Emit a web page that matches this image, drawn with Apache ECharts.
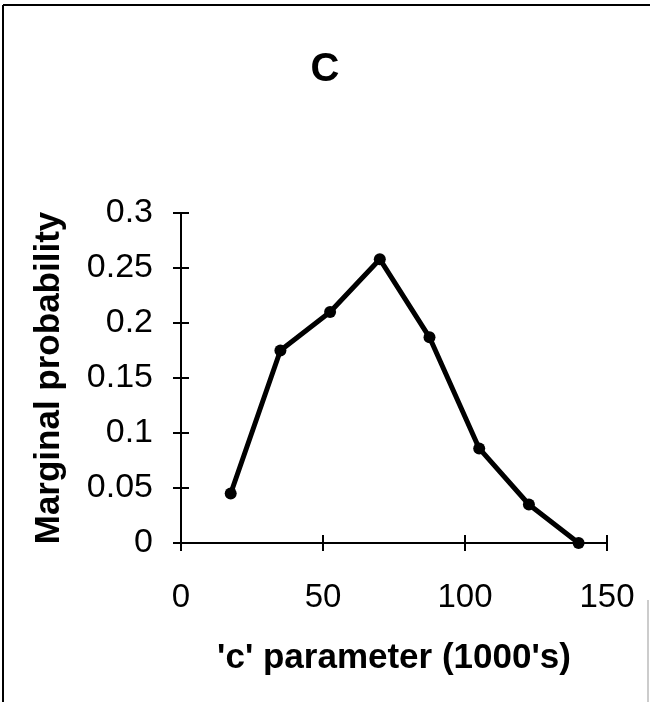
<!DOCTYPE html>
<html><head><meta charset="utf-8">
<script src="https://cdn.jsdelivr.net/npm/echarts@6/dist/echarts.min.js"></script>
<style>html,body{margin:0;padding:0;background:#fff}#c{width:650px;height:702px}</style>
</head><body><div id="c"></div>
<script>
const xValues = [17.5, 35, 52.5, 70, 87.5, 105, 122.5, 140];
const yValues = [0.045, 0.175, 0.21, 0.258, 0.187, 0.086, 0.035, 0.0];
const titleText = 'C';
const xName = "'c' parameter (1000's)";
const yName = 'Marginal probability';

const chart = echarts.init(document.getElementById('c'));
const ff = 'Liberation Sans, Arial, sans-serif';
const grid = {left: 181, right: 43, top: 213, bottom: 159};
chart.setOption({
  backgroundColor: '#fff',
  animation: false,
  title: {text: titleText, left: 'center', top: 50, textStyle: {fontFamily: ff, fontSize: 40, fontWeight: 'bold', color: '#000'}, padding: 0},
  grid: [grid, grid],
  xAxis: [
    {type: 'value', min: 0, max: 150, interval: 50, gridIndex: 0,
     axisLine: {show: true, lineStyle: {color: '#000', width: 2}},
     axisTick: {show: true, length: 8, lineStyle: {color: '#000', width: 2}},
     axisLabel: {fontFamily: ff, fontSize: 33, color: '#000', margin: 38},
     splitLine: {show: false},
     name: xName, nameLocation: 'middle', nameGap: 98,
     nameTextStyle: {fontFamily: ff, fontSize: 35, fontWeight: 'bold', color: '#000'}},
    {type: 'value', min: 0, max: 150, interval: 50, gridIndex: 1, position: 'bottom',
     axisLine: {show: false}, axisTick: {show: true, inside: true, length: 8, lineStyle: {color: '#000', width: 2}},
     axisLabel: {show: false}, splitLine: {show: false}}
  ],
  yAxis: [
    {type: 'value', min: 0, max: 0.3, interval: 0.05, gridIndex: 0,
     axisLine: {show: true, lineStyle: {color: '#000', width: 2}},
     axisTick: {show: true, length: 8, lineStyle: {color: '#000', width: 2}},
     axisLabel: {fontFamily: ff, fontSize: 34, color: '#000', margin: 28},
     splitLine: {show: false},
     name: yName, nameLocation: 'middle', nameGap: 114, nameRotate: 90,
     nameTextStyle: {fontFamily: ff, fontSize: 35, fontWeight: 'bold', color: '#000'}},
    {type: 'value', min: 0, max: 0.3, interval: 0.05, gridIndex: 1, position: 'left',
     axisLine: {show: false}, axisTick: {show: true, inside: true, length: 8, lineStyle: {color: '#000', width: 2}},
     axisLabel: {show: false}, splitLine: {show: false}}
  ],
  graphic: [
    {type: 'line', shape: {x1: 3, y1: 5, x2: 650, y2: 5}, style: {stroke: '#000', lineWidth: 2}},
    {type: 'line', shape: {x1: 3, y1: 5, x2: 3, y2: 702}, style: {stroke: '#000', lineWidth: 2}},
    {type: 'line', shape: {x1: 648, y1: 600, x2: 648, y2: 702}, style: {stroke: '#999', lineWidth: 1}}
  ],
  series: [{
    type: 'line', xAxisIndex: 0, yAxisIndex: 0,
    data: xValues.map((x, i) => [x, yValues[i]]),
    symbol: 'circle', symbolSize: 12,
    lineStyle: {color: '#000', width: 5},
    itemStyle: {color: '#000'}
  }]
});
</script></body></html>
